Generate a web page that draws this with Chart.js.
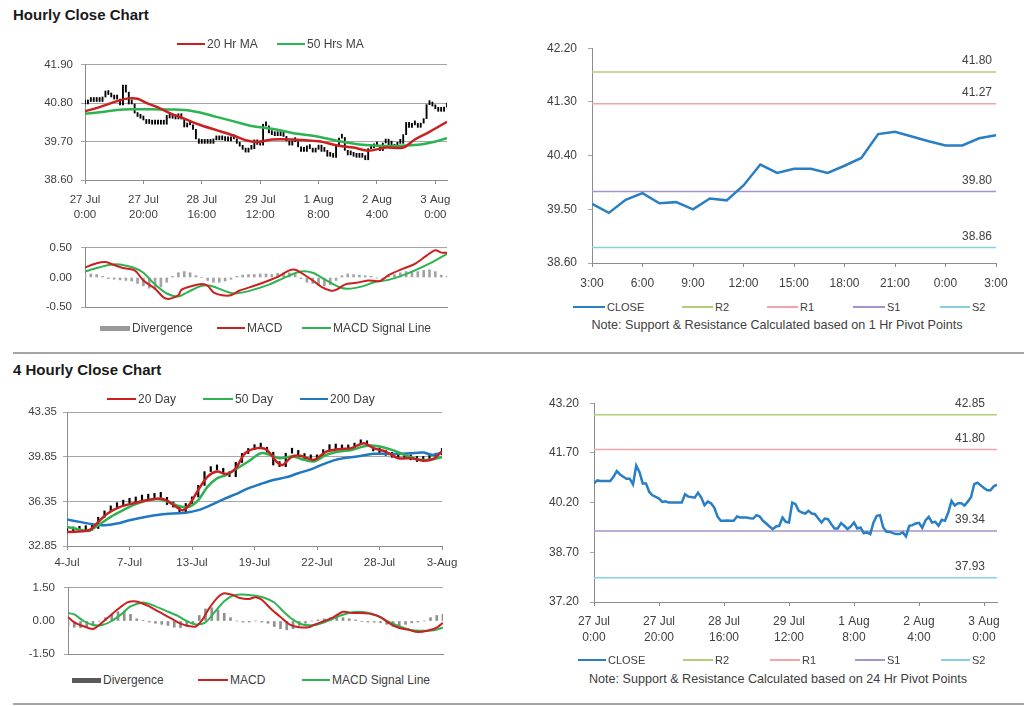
<!DOCTYPE html>
<html>
<head>
<meta charset="utf-8">
<script src="https://cdn.jsdelivr.net/npm/chart.js@4.4.0/dist/chart.umd.min.js"></script>
<style>
  body { margin: 0; background: #fff; font-family: 'Liberation Sans', Arial, sans-serif; color: #404040; }
  #page { position: relative; width: 1024px; height: 706px; overflow: hidden; }
  canvas { position: absolute; }
  .title { position: absolute; left: 13px; font-weight: bold; font-size: 15px; color: #1a1a1a; }
  .rule { position: absolute; left: 13px; width: 1011px; height: 2px; background: #a6a6a6; }
  .lg { position: absolute; display: flex; align-items: center; height: 14px; white-space: nowrap; color: #404040; }
  .lg i { display: inline-block; margin-right: 2px; }
  .note { position: absolute; font-size: 12.6px; transform: translateX(-50%); white-space: nowrap; color: #404040; }
</style>
</head>
<body>
<div id="page">
  <div class="title" style="top:6px">Hourly Close Chart</div>
  <div class="rule" style="top:352px"></div>
  <div class="title" style="top:361px">4 Hourly Close Chart</div>
  <div class="rule" style="top:703px"></div>

  <canvas id="cA" width="460" height="180" style="left:0;top:50px"></canvas>
  <canvas id="cC" width="460" height="91" style="left:0;top:232px"></canvas>
  <canvas id="cB" width="500" height="270" style="left:520px;top:30px"></canvas>
  <canvas id="cE" width="470" height="175" style="left:0;top:395px"></canvas>
  <canvas id="cF" width="470" height="98" style="left:0;top:572px"></canvas>
  <canvas id="cH" width="500" height="270" style="left:520px;top:385px"></canvas>

  <div class="note" style="left:777px;top:318px">Note: Support &amp; Resistance Calculated based on 1 Hr Pivot Points</div>
  <div class="note" style="left:778px;top:672px">Note: Support &amp; Resistance Calculated based on 24 Hr Pivot Points</div>
</div>

<script>
// ---- hourly data (one close per hour from 27 Jul 0:00) ----
const hourlyClose = [
  40.78, 40.87, 40.85, 40.85, 40.85, 40.85, 40.98, 41.15, 41.05, 40.98,
  40.92, 40.92, 40.75, 41.32, 41.12, 40.78, 40.78, 40.52, 40.42, 40.37,
  40.32, 40.22, 40.24, 40.20, 40.20, 40.20, 40.20, 40.20, 40.45, 40.38,
  40.37, 40.35, 40.50, 40.35, 40.12, 40.23, 40.18, 40.05, 39.78, 39.65,
  39.65, 39.66, 39.65, 39.65, 39.78, 39.75, 39.75, 39.75, 39.73, 39.72,
  39.82, 39.78, 39.65, 39.57, 39.48, 39.40, 39.48, 39.50, 39.75, 39.62,
  39.60, 40.20, 40.15, 39.95, 39.90, 39.87, 39.95, 39.87, 39.85, 39.72,
  39.60, 39.72, 39.70, 39.55, 39.42, 39.42, 39.58, 39.50, 39.40, 39.48,
  39.60, 39.42, 39.45, 39.28, 39.30, 39.25, 39.60, 39.80, 39.82, 39.45,
  39.32, 39.32, 39.28, 39.25, 39.25, 39.30, 39.18, 39.50, 39.52, 39.57,
  39.59, 39.44, 39.66, 39.77, 39.60, 39.62, 39.50, 39.68, 39.65, 39.90,
  40.25, 40.11, 40.18, 40.18, 40.11, 40.23, 40.36, 40.76, 40.80, 40.72,
  40.64, 40.57, 40.57, 40.69, 40.74
];
const hourTickPos = [0, 20, 40, 60, 80, 100, 120];
const hourTickLabels = [['27 Jul', '0:00'], ['27 Jul', '20:00'], ['28 Jul', '16:00'], ['29 Jul', '12:00'],
  ['1 Aug', '8:00'], ['2 Aug', '4:00'], ['3 Aug', '0:00']];

const ma20Hours = [0, 5, 11, 15, 18, 21, 25, 29, 34, 39, 45, 51, 55, 59, 64, 71, 80, 87, 92, 97, 103, 109, 113, 118, 124];
const ma20Values = [40.57, 40.69, 40.86, 40.94, 40.93, 40.81, 40.68, 40.52, 40.36, 40.19, 40.03, 39.87, 39.74, 39.69,
  39.76, 39.76, 39.71, 39.58, 39.53, 39.44, 39.53, 39.53, 39.76, 39.98, 40.27];
const ma50Hours = [0, 5, 11, 17, 23, 28, 34, 39, 45, 51, 57, 64, 71, 80, 87, 94, 101, 108, 115, 119, 124];
const ma50Values = [40.50, 40.54, 40.61, 40.63, 40.63, 40.62, 40.61, 40.54, 40.41, 40.28, 40.15, 40.07, 39.95, 39.84,
  39.71, 39.62, 39.58, 39.58, 39.62, 39.68, 39.80];

const macdHours = [0, 4, 7, 10, 13, 17, 20, 24, 27, 29, 32, 33, 37, 40, 42, 44, 47, 50, 53, 58, 63, 66, 70, 72, 74, 78,
  81, 84, 86, 89, 93, 97, 101, 104, 109, 113, 117, 120, 122, 124];
const macdValues = [0.17, 0.24, 0.26, 0.21, 0.16, 0.12, -0.05, -0.19, -0.34, -0.36, -0.30, -0.21, -0.14, -0.11, -0.14,
  -0.25, -0.30, -0.30, -0.22, -0.14, -0.05, 0.01, 0.12, 0.13, 0.08, -0.05, -0.16, -0.22, -0.21, -0.12, -0.09, -0.05,
  -0.06, 0.04, 0.15, 0.23, 0.37, 0.46, 0.42, 0.42];
const signalHours = [0, 4, 9, 12, 17, 20, 24, 28, 32, 35, 40, 43, 48, 51, 56, 63, 68, 74, 78, 82, 87, 90, 95, 99, 104,
  109, 113, 119, 124];
const signalValues = [0.10, 0.16, 0.22, 0.22, 0.16, 0.08, -0.12, -0.27, -0.32, -0.25, -0.14, -0.14, -0.23, -0.27,
  -0.23, -0.12, -0.01, 0.10, 0.08, -0.03, -0.16, -0.19, -0.15, -0.08, -0.04, 0.04, 0.12, 0.26, 0.40];
// divergence read every 2 hours
const divergenceHourly = [0.05, 0.06, 0.05, 0.02, -0.02, -0.03, -0.04, -0.05, -0.06, -0.10,
  -0.14, -0.18, -0.20, -0.16, -0.08, 0.02, 0.08, 0.10, 0.08, 0.03,
  0.00, -0.05, -0.08, -0.08, -0.06, -0.03, 0.02, 0.04, 0.05, 0.05,
  0.06, 0.06, 0.05, 0.07, 0.08, 0.08, 0.05, -0.02, -0.08, -0.10,
  -0.13, -0.14, -0.12, -0.05, 0.03, 0.06, 0.05, 0.04, 0.03, 0.02,
  -0.01, -0.02, 0.02, 0.05, 0.08, 0.10, 0.10, 0.10, 0.12, 0.13,
  0.10, 0.04, 0.02];

// last 24 hours (3:00 to 3:00) is the tail of the hourly series
const last24Close = hourlyClose.slice(-25);
const last24TickPos = [0, 3, 6, 9, 12, 15, 18, 21, 24];
const last24TickLabels = ['3:00', '6:00', '9:00', '12:00', '15:00', '18:00', '21:00', '0:00', '3:00'];

const pivotNames = ['R2', 'R1', 'S1', 'S2'];
const pivotColors = ['#b0cf78', '#f2a5a8', '#a793cc', '#88cfe0'];
const hourlyPivots = [41.80, 41.27, 39.80, 38.86];
const dailyPivots = [42.85, 41.80, 39.34, 37.93];

// ---- 4 hourly data (read every 2nd bar, 20 bars per date tick) ----
const close4h = [
  33.95, 34.00, 34.05, 34.08, 34.22, 35.10, 35.60, 35.85, 36.05, 36.20,
  36.30, 36.45, 36.52, 36.58, 36.71, 36.66, 36.10, 35.90, 35.53, 36.18,
  36.70, 37.60, 38.68, 38.81, 38.81, 38.55, 38.28, 39.40, 40.10, 40.40,
  40.52, 40.52, 40.20, 39.20, 39.07, 40.12, 40.25, 39.95, 39.70, 39.60,
  39.90, 40.40, 40.52, 40.45, 40.38, 40.52, 40.78, 40.96, 40.70, 40.30,
  40.15, 39.95, 39.80, 39.73, 39.70, 39.60, 39.47, 39.60, 39.73, 39.99,
  40.50
];
const dayTickPos = [0, 20, 40, 60, 80, 100, 120];
const dayTickLabels = ['4-Jul', '7-Jul', '13-Jul', '19-Jul', '22-Jul', '28-Jul', '3-Aug'];

const ma20dIdx = [0, 7, 10, 13, 17, 21, 26, 30, 32, 35, 37, 39, 42, 45, 48, 51, 54, 57, 61, 64, 67, 69, 72, 75, 79, 83,
  87, 91, 95, 98, 102, 106, 110, 114, 117, 120];
const ma20dVals = [33.95, 34.08, 34.74, 35.40, 35.92, 36.18, 36.45, 36.58, 36.40, 35.92, 35.66, 36.05, 37.24, 38.28,
  38.68, 38.49, 38.94, 40.12, 40.52, 40.38, 39.47, 39.20, 39.86, 39.91, 39.60, 40.25, 40.44, 40.52, 40.91, 40.52,
  40.25, 39.73, 39.73, 39.54, 39.65, 40.25];
const ma50dIdx = [0, 4, 7, 10, 14, 18, 22, 27, 30, 33, 36, 39, 42, 45, 48, 51, 54, 58, 62, 65, 68, 72, 76, 79, 83, 87,
  91, 96, 100, 104, 108, 112, 116, 120];
const ma50dVals = [34.35, 34.14, 34.03, 34.48, 35.13, 35.66, 36.13, 36.50, 36.50, 36.24, 35.97, 35.92, 36.45, 37.50,
  38.15, 38.42, 38.86, 39.47, 40.12, 39.99, 39.73, 39.86, 39.60, 39.47, 39.99, 40.25, 40.38, 40.70, 40.65, 40.38,
  39.99, 39.65, 39.60, 39.81];
const ma200dIdx = [0, 4, 8, 12, 16, 20, 25, 30, 34, 38, 42, 46, 50, 54, 58, 62, 66, 70, 74, 78, 82, 86, 90, 94, 98,
  102, 106, 110, 114, 117, 120];
const ma200dVals = [34.92, 34.74, 34.56, 34.48, 34.61, 34.87, 35.13, 35.32, 35.40, 35.45, 35.66, 36.05, 36.50, 36.92,
  37.37, 37.71, 38.02, 38.23, 38.55, 38.86, 39.26, 39.60, 39.78, 39.91, 40.07, 40.07, 40.07, 40.12, 40.17, 39.99, 40.17];

const macd4Idx = [0, 2, 5, 8, 10, 13, 16, 19, 21, 23, 26, 29, 33, 36, 39, 41, 43, 45, 48, 50, 53, 55, 58, 60, 62, 65,
  68, 71, 74, 77, 79, 82, 85, 88, 91, 94, 97, 100, 103, 106, 109, 112, 115, 118, 120];
const macd4Vals = [0.18, -0.06, -0.24, -0.36, -0.18, 0.18, 0.54, 0.84, 0.90, 0.84, 0.66, 0.42, 0.12, -0.12, -0.24,
  -0.24, 0.06, 0.54, 1.08, 1.26, 1.16, 1.04, 1.00, 1.08, 0.96, 0.54, 0.18, -0.16, -0.28, -0.28, -0.16, 0.00, 0.18,
  0.42, 0.36, 0.36, 0.32, 0.18, -0.12, -0.32, -0.40, -0.50, -0.44, -0.30, -0.08];
const signal4Idx = [0, 2, 5, 8, 11, 14, 17, 20, 24, 27, 31, 35, 38, 41, 44, 47, 50, 53, 56, 60, 63, 66, 69, 72, 75, 79,
  83, 87, 91, 95, 99, 102, 106, 110, 114, 117, 120];
const signal4Vals = [0.36, 0.30, 0.00, -0.18, -0.18, 0.00, 0.30, 0.66, 0.84, 0.72, 0.48, 0.24, 0.00, -0.16, -0.06,
  0.42, 0.90, 1.16, 1.20, 1.14, 1.04, 0.84, 0.42, 0.06, -0.16, -0.18, 0.00, 0.24, 0.40, 0.40, 0.24, 0.00, -0.24,
  -0.42, -0.44, -0.42, -0.30];
const divergence4h = [-0.20, -0.28, -0.30, -0.30, -0.22, 0.00, 0.15, 0.30, 0.42, 0.45,
  0.30, 0.10, 0.02, -0.05, -0.10, -0.15, -0.20, -0.28, -0.30, -0.25,
  -0.10, 0.25, 0.55, 0.60, 0.50, 0.35, 0.15, 0.00, -0.05, -0.05,
  0.00, -0.05, -0.10, -0.25, -0.35, -0.40, -0.35, -0.20, -0.10, 0.00,
  0.05, 0.10, 0.15, 0.20, 0.15, 0.10, 0.05, -0.02, -0.05, -0.05,
  -0.08, -0.15, -0.25, -0.22, -0.15, -0.08, -0.05, 0.00, 0.15, 0.25,
  0.30];

// ---- styling ----
const RED = '#cc1f1f', GREEN = '#2db350', BLUE = '#1f78c1', CLOSE_BLUE = '#2a7ec4';
const AXIS = '#8c8c8c', GRID = '#a6a6a6';
Chart.defaults.font.family = "'Liberation Sans', Arial, sans-serif";
Chart.defaults.color = '#404040';

const pts = (xs, ys) => xs.map((x, i) => ({ x, y: ys[i] }));
const line = (data, color, width, order, tension) => ({
  type: 'line', data, borderColor: color, borderWidth: width, pointRadius: 0,
  tension: tension || 0, fill: false, order
});
const rangeBars = (vals, step) => vals.map((c, i) => ({ x: i * step, y: [i ? vals[i - 1] : c, c] }));

const pivotLabelPlugin = {
  id: 'pivotLabels',
  afterDatasetsDraw(chart, args, opts) {
    const { ctx, chartArea, scales: { y } } = chart;
    ctx.save();
    ctx.font = "12px 'Liberation Sans', Arial, sans-serif";
    ctx.fillStyle = '#404040';
    ctx.textAlign = 'right';
    ctx.textBaseline = 'middle';
    opts.values.forEach(v => ctx.fillText(v.toFixed(2), chartArea.right - opts.inset, y.getPixelForValue(v) - 11));
    ctx.restore();
  }
};

function panel(id, o) {
  return new Chart(document.getElementById(id), {
    type: 'bar',
    data: { datasets: o.datasets },
    options: {
      responsive: false,
      animation: false,
      events: [],
      layout: { padding: o.pad },
      plugins: { legend: { display: false }, tooltip: { enabled: false }, pivotLabels: o.pivots || false },
      scales: {
        x: {
          type: 'linear', min: 0, max: o.xMax, offset: false,
          afterBuildTicks: s => { s.ticks = o.xTicks.map(v => ({ value: v })); },
          afterFit: s => { s.height = o.xHeight; },
          grid: { offset: false, drawOnChartArea: false, drawTicks: !!o.xLabels, tickLength: 4, color: AXIS },
          border: { color: AXIS },
          ticks: {
            display: !!o.xLabels, autoSkip: false, maxRotation: 0, padding: o.xPad,
            font: { size: o.fs, lineHeight: 1.3 },
            callback: (v, i) => o.xLabels ? o.xLabels[i] : ''
          }
        },
        y: {
          beginAtZero: false,
          min: o.yTicks[0], max: o.yTicks[o.yTicks.length - 1],
          afterBuildTicks: s => { s.ticks = o.yTicks.map(v => ({ value: v })); },
          afterFit: s => { s.width = o.yWidth; },
          grid: {
            drawOnChartArea: !!o.yGrid, tickLength: 4,
            color: c => (o.hideZero && c.tick && c.tick.value === 0) ? 'rgba(0,0,0,0)' : GRID
          },
          border: { color: AXIS },
          ticks: { padding: o.yPad, font: { size: o.fs }, callback: v => v.toFixed(2) }
        }
      }
    },
    plugins: [pivotLabelPlugin]
  });
}

// Hourly price with moving averages
panel('cA', {
  datasets: [
    line(pts(ma20Hours, ma20Values), RED, 2.5, 1, 0.35),
    line(pts(ma50Hours, ma50Values), GREEN, 2.5, 2, 0.35),
    { type: 'bar', data: rangeBars(hourlyClose, 1), backgroundColor: '#000', barThickness: 1.2,
      minBarLength: 4, grouped: false, order: 3 }
  ],
  xMax: 124, xTicks: hourTickPos, xLabels: hourTickLabels, xHeight: 50, xPad: 8,
  yTicks: [38.60, 39.70, 40.80, 41.90], yWidth: 85, yPad: 8, yGrid: true, fs: 11.5,
  pad: { left: 0, top: 7, right: 13, bottom: 0 }
});

// Hourly MACD
panel('cC', {
  datasets: [
    line(pts(macdHours, macdValues), RED, 2, 1, 0.3),
    line(pts(signalHours, signalValues), GREEN, 2, 2, 0.3),
    { type: 'bar', data: divergenceHourly.map((v, i) => ({ x: i * 2, y: v })), backgroundColor: '#a3a3a3',
      barThickness: 2, grouped: false, order: 3 }
  ],
  xMax: 124, xTicks: hourTickPos, xHeight: 0,
  yTicks: [-0.5, 0, 0.5], yWidth: 85, yPad: 9, yGrid: true, hideZero: true, fs: 11.5,
  pad: { left: 0, top: 8, right: 13, bottom: 7 }
});

// Last 24 hours close with hourly pivots
panel('cB', {
  datasets: [
    line(last24Close.map((v, i) => ({ x: i, y: v })), CLOSE_BLUE, 2.5, 0),
    ...hourlyPivots.map((v, k) => line(pts([0, 24], [v, v]), pivotColors[k], 1.5, 1))
  ],
  pivots: { values: hourlyPivots, inset: 4 },
  xMax: 24, xTicks: last24TickPos, xLabels: last24TickLabels, xHeight: 37, xPad: 9,
  yTicks: [38.60, 39.50, 40.40, 41.30, 42.20], yWidth: 72, yPad: 11, yGrid: false, fs: 12,
  pad: { left: 0, top: 17, right: 24, bottom: 0 }
});

// 4 hourly price with moving averages
panel('cE', {
  datasets: [
    line(pts(ma20dIdx, ma20dVals), RED, 2.5, 1, 0.3),
    line(pts(ma50dIdx, ma50dVals), GREEN, 2.5, 2, 0.3),
    line(pts(ma200dIdx, ma200dVals), BLUE, 2.5, 3, 0.3),
    { type: 'bar', data: rangeBars(close4h, 2), backgroundColor: '#000', barThickness: 1.5,
      minBarLength: 5, grouped: false, order: 4 }
  ],
  xMax: 120, xTicks: dayTickPos, xLabels: dayTickLabels, xHeight: 24, xPad: 5,
  yTicks: [32.85, 36.35, 39.85, 43.35], yWidth: 67, yPad: 6, yGrid: true, fs: 11.5,
  pad: { left: 0, top: 17, right: 28, bottom: 0 }
});

// 4 hourly MACD
panel('cF', {
  datasets: [
    line(pts(macd4Idx, macd4Vals), RED, 2, 1, 0.3),
    line(pts(signal4Idx, signal4Vals), GREEN, 2, 2, 0.3),
    { type: 'bar', data: divergence4h.map((v, i) => ({ x: i * 2, y: v })), backgroundColor: '#8f8f8f',
      barThickness: 2, grouped: false, order: 3 }
  ],
  xMax: 120, xTicks: dayTickPos, xHeight: 0,
  yTicks: [-1.5, 0, 1.5], yWidth: 68, yPad: 9, yGrid: true, hideZero: true, fs: 11.5,
  pad: { left: 0, top: 8, right: 27, bottom: 7 }
});

// Hourly close with 24 hr pivots
panel('cH', {
  datasets: [
    line(hourlyClose.map((v, i) => ({ x: i, y: v })), CLOSE_BLUE, 2.5, 0),
    ...dailyPivots.map((v, k) => line(pts([0, 124], [v, v]), pivotColors[k], 1.5, 1))
  ],
  pivots: { values: dailyPivots, inset: 12 },
  xMax: 124, xTicks: hourTickPos, xLabels: hourTickLabels, xHeight: 53, xPad: 8,
  yTicks: [37.20, 38.70, 40.20, 41.70, 43.20], yWidth: 74, yPad: 11, yGrid: false, fs: 12,
  pad: { left: 0, top: 17, right: 23, bottom: 0 }
});

// ---- HTML legends ----
function legend(size, items) {
  const page = document.getElementById('page');
  items.forEach(([x, y, color, label, h, w]) => {
    const d = document.createElement('div');
    d.className = 'lg';
    d.style.left = x + 'px';
    d.style.top = (y - 7) + 'px';
    d.style.fontSize = size + 'px';
    const s = document.createElement('i');
    s.style.width = w + 'px';
    s.style.height = h + 'px';
    s.style.background = color;
    d.appendChild(s);
    d.appendChild(document.createTextNode(label));
    page.appendChild(d);
  });
}
legend(12, [[177, 44, RED, '20 Hr MA', 2, 28], [277, 44, GREEN, '50 Hrs MA', 2, 28]]);
legend(12, [[100, 328, '#999', 'Divergence', 5, 30], [217, 328, RED, 'MACD', 2, 28],
  [302, 328, GREEN, 'MACD Signal Line', 2, 29]]);
legend(12, [[107, 399, RED, '20 Day', 2, 29], [203, 399, GREEN, '50 Day', 2, 30], [300, 399, BLUE, '200 Day', 2, 28]]);
legend(12, [[72, 680, '#595959', 'Divergence', 5, 29], [198, 680, RED, 'MACD', 2, 30],
  [302, 680, GREEN, 'MACD Signal Line', 2, 28]]);
legend(11, [[573, 307, CLOSE_BLUE, 'CLOSE', 2, 32], [682, 307, pivotColors[0], pivotNames[0], 1.5, 31],
  [767, 307, pivotColors[1], pivotNames[1], 1.5, 31], [853, 307, pivotColors[2], pivotNames[2], 1.5, 32],
  [940, 307, pivotColors[3], pivotNames[3], 1.5, 30]]);
legend(11, [[578, 660, CLOSE_BLUE, 'CLOSE', 2, 28], [683, 660, pivotColors[0], pivotNames[0], 1.5, 30],
  [770, 660, pivotColors[1], pivotNames[1], 1.5, 30], [855, 660, pivotColors[2], pivotNames[2], 1.5, 30],
  [941, 660, pivotColors[3], pivotNames[3], 1.5, 29]]);
</script>
</body>
</html>
